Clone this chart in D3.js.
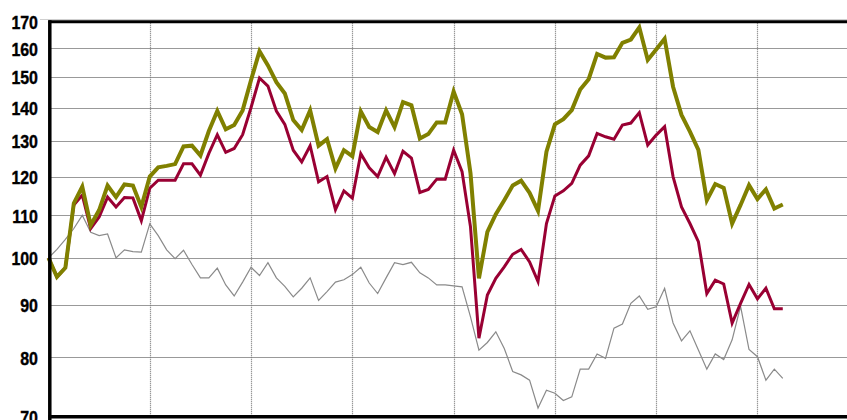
<!DOCTYPE html>
<html>
<head>
<meta charset="utf-8">
<script src="https://cdn.jsdelivr.net/npm/d3@7"></script>
<style>
  html, body { margin: 0; padding: 0; background: #fff; }
  svg { display: block; }
  .tick-label { font-family: "Liberation Sans", Arial, sans-serif; font-weight: bold; font-size: 19px; fill: #000; stroke: #000; stroke-width: 0.4px; }
</style>
</head>
<body>
<svg id="chart" width="847" height="420"></svg>
<script>
// ---- data ----
const yTicks = [70, 80, 90, 100, 110, 120, 130, 140, 150, 160, 170];

const seriesOlive = [100, 95.8, 97.8, 113.0, 117.3, 107.6, 111.3, 117.6, 114.6, 117.9, 117.6, 112.1,
  120, 122.5, 122.9, 123.4, 128.4, 128.6, 125.8, 132.9, 139.0, 133.4, 134.7, 139.2,
  149.0, 159.0, 154.0, 148.3, 144.6, 136.2, 133.2, 139.2, 128.6, 130.5, 122.2, 127.3,
  125.6, 138.9, 134.1, 132.6, 139.2, 134.1, 141.8, 140.8, 130.7, 132.0, 135.5, 135.5,
  145.2, 138.0, 120.9, 95.5, 106.0, 110.3, 113.8, 117.6, 118.9, 115.7, 111.1, 126.9,
  134.9, 136.5, 139.3, 145.9, 149.3, 158.0, 156.7, 156.8, 162.0, 163.2, 167.7, 155.9,
  159.6, 163.5, 146.8, 137.8, 132.7, 127.4, 113.8, 118.0, 117.0, 108.0, 112.6, 117.7,
  114.1, 116.6, 111.7, 112.7];

const seriesCrimson = [100, 95.8, 97.8, 112.6, 115.1, 106.8, 109.6, 114.6, 112.1, 114.5, 114.4, 108.7,
  116.9, 119.0, 119.0, 119.0, 123.5, 123.5, 120.4, 126.4, 131.8, 126.7, 127.8, 131.8,
  140.1, 149.7, 147.0, 139.0, 134.9, 127.3, 124.0, 128.6, 118.6, 120.0, 111.4, 116.2,
  114.3, 126.3, 122.4, 120.0, 125.3, 120.8, 127.0, 125.1, 115.8, 116.6, 119.3, 119.3,
  127.3, 121.3, 107.2, 83.5, 92.0, 95.5, 98.0, 100.8, 101.9, 99.1, 94.8, 108.0,
  114.9, 116.2, 118.2, 123.1, 125.7, 132.2, 131.2, 130.5, 134.7, 135.3, 138.5, 128.8,
  131.7, 134.2, 120.0, 112.1, 108.0, 103.7, 92.3, 95.1, 94.3, 86.4, 90.3, 94.2,
  91.2, 93.4, 89.2, 89.2];

const seriesGrey = [100, 101.9, 104.2, 106.8, 110.0, 105.9, 105.1, 105.5, 100, 101.8, 101.4, 101.3,
  107.9, 105.1, 101.8, 99.8, 101.7, 98.5, 95.6, 95.6, 97.7, 94.1, 91.8, 94.7,
  97.9, 96.1, 98.9, 95.6, 93.8, 91.6, 93.4, 95.6, 90.9, 92.7, 94.7, 95.2,
  96.3, 97.9, 94.5, 92.3, 95.6, 98.9, 98.5, 99.0, 96.7, 95.6, 94.1, 94.1,
  93.9, 93.7, 87.6, 81.3, 82.7, 84.7, 81.6, 77.5, 76.9, 76.0, 71.4, 74.3,
  73.8, 72.6, 73.2, 77.9, 77.9, 80.6, 79.8, 85.4, 86.2, 90.3, 91.8, 89.1,
  89.6, 93.4, 86.4, 83.0, 84.9, 81.3, 77.9, 80.6, 79.6, 83.2, 89.7, 81.4,
  80.1, 76.0, 77.9, 76.3];

// month index of each observation (monthly data)
const months = d3.range(seriesOlive.length);
// vertical gridlines every 12 months
const xGridMonths = [12, 24, 36, 48, 60, 72, 84, 96];

// ---- layout ----
const W = 847, H = 420;
const plotLeft = 48.5, plotTop = 21.3, plotBottom = 416.8;
const monthStep = 8.44;

const svg = d3.select("#chart");

const x = d3.scaleLinear().domain([0, 87]).range([plotLeft, plotLeft + 87 * monthStep]);
const y = d3.scaleLog().domain([70, 170]).range([plotBottom, plotTop]);

// light outer line
svg.append("line").attr("x1", 40).attr("x2", W).attr("y1", 19.5).attr("y2", 19.5)
  .attr("stroke", "#cfcfcf").attr("stroke-width", 1);

// horizontal gridlines
svg.append("g").selectAll("line")
  .data(yTicks.filter(d => d > 70 && d < 170))
  .join("line")
  .attr("x1", plotLeft + 1).attr("x2", W)
  .attr("y1", d => Math.round(y(d)) + 0.5).attr("y2", d => Math.round(y(d)) + 0.5)
  .attr("stroke", "#333").attr("stroke-width", 1).attr("stroke-dasharray", "1,1");

// vertical gridlines
svg.append("g").selectAll("line")
  .data(xGridMonths)
  .join("line")
  .attr("x1", d => Math.round(x(d)) + 0.5).attr("x2", d => Math.round(x(d)) + 0.5)
  .attr("y1", plotTop).attr("y2", plotBottom)
  .attr("stroke", "#777").attr("stroke-width", 1.2).attr("stroke-dasharray", "1,1");

// lines
const line = s => d3.line().x((d, i) => x(months[i])).y(d => y(d))(s);

svg.append("path").attr("d", line(seriesGrey))
  .attr("fill", "none").attr("stroke", "#8a8a8a").attr("stroke-width", 1.2)
  .attr("stroke-linejoin", "miter");
svg.append("path").attr("d", line(seriesCrimson))
  .attr("fill", "none").attr("stroke", "#990033").attr("stroke-width", 3)
  .attr("stroke-linejoin", "miter");
svg.append("path").attr("d", line(seriesOlive))
  .attr("fill", "none").attr("stroke", "#808000").attr("stroke-width", 4)
  .attr("stroke-linejoin", "miter");

// frame: top border, left axis, bottom axis
svg.append("line").attr("x1", plotLeft).attr("x2", W).attr("y1", y(170) + 0.5).attr("y2", y(170) + 0.5)
  .attr("stroke", "#000").attr("stroke-width", 3);
svg.append("line").attr("x1", plotLeft + 1.3).attr("x2", plotLeft + 1.3).attr("y1", y(170) - 1).attr("y2", H)
  .attr("stroke", "#000").attr("stroke-width", 3.5);
svg.append("line").attr("x1", plotLeft).attr("x2", W).attr("y1", y(70)).attr("y2", y(70))
  .attr("stroke", "#000").attr("stroke-width", 3.5);

// y tick labels
const yAxis = d3.axisLeft(y).tickValues(yTicks).tickFormat(d3.format("d")).tickSize(0).tickPadding(0);
const gAxis = svg.append("g").attr("transform", `translate(38,0)`).call(yAxis);
gAxis.select(".domain").remove();
gAxis.selectAll("text").attr("class", "tick-label").attr("font-family", null).attr("font-size", null)
  .attr("x", 0).attr("dy", "0.36em").attr("transform", "scale(0.84,1)");
</script>
</body>
</html>
